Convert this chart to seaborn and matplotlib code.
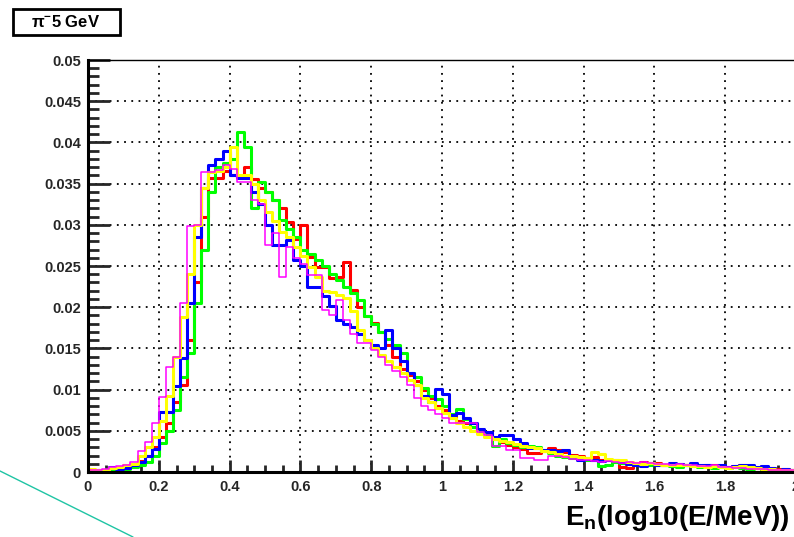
import numpy as np
import pandas as pd
import matplotlib
matplotlib.use("Agg")
import matplotlib.pyplot as plt
from matplotlib.lines import Line2D
from matplotlib.patches import Rectangle
import seaborn as sns

# ---------------- data (bin contents, 100 bins from 0 to 2) ----------------
bin_edges = [round(0.02 * k, 2) for k in range(101)]

red = [0.0002, 0.0002, 0.0002, 0.0003, 0.0004, 0.0005, 0.0008, 0.0013, 0.0020, 0.0030,
       0.0042, 0.0060, 0.0085, 0.0105, 0.0160, 0.0230, 0.0310, 0.0357, 0.0357, 0.0365,
       0.0360, 0.0358, 0.0370, 0.0355, 0.0345, 0.0340, 0.0330, 0.0320, 0.0304, 0.0283,
       0.0300, 0.0261, 0.0249, 0.0249, 0.0235, 0.0237, 0.0255, 0.0221, 0.0200, 0.0189,
       0.0181, 0.0170, 0.0154, 0.0140, 0.0125, 0.0118, 0.0110, 0.0100, 0.0090, 0.0080,
       0.0075, 0.0068, 0.0062, 0.0059, 0.0055, 0.0048, 0.0045, 0.0040, 0.0036, 0.0033,
       0.0030, 0.0028, 0.0023, 0.0023, 0.0026, 0.0029, 0.0027, 0.0024, 0.0021, 0.0019,
       0.0017, 0.0018, 0.0015, 0.0014, 0.0012, 0.0006, 0.0005, 0.0011, 0.0012, 0.0010,
       0.0011, 0.0009, 0.0008, 0.0010, 0.0009, 0.0008, 0.0007, 0.0009, 0.0008, 0.0007,
       0.0006, 0.0007, 0.0008, 0.0006, 0.0005, 0.0006, 0.0005, 0.0004, 0.0004, 0.0003]

green = [0.0001, 0.0001, 0.0002, 0.0002, 0.0003, 0.0004, 0.0006, 0.0008, 0.0012, 0.0020,
         0.0035, 0.0050, 0.0075, 0.0115, 0.0145, 0.0205, 0.0270, 0.0340, 0.0370, 0.0375,
         0.0380, 0.0413, 0.0395, 0.0320, 0.0352, 0.0340, 0.0330, 0.0306, 0.0295, 0.0285,
         0.0270, 0.0265, 0.0257, 0.0250, 0.0240, 0.0233, 0.0225, 0.0217, 0.0209, 0.0189,
         0.0180, 0.0170, 0.0162, 0.0154, 0.0145, 0.0120, 0.0115, 0.0102, 0.0092, 0.0088,
         0.0080, 0.0070, 0.0077, 0.0064, 0.0055, 0.0050, 0.0045, 0.0031, 0.0040, 0.0035,
         0.0033, 0.0030, 0.0031, 0.0030, 0.0026, 0.0023, 0.0020, 0.0018, 0.0017, 0.0016,
         0.0015, 0.0014, 0.0007, 0.0008, 0.0012, 0.0011, 0.0010, 0.0009, 0.0010, 0.0008,
         0.0009, 0.0008, 0.0007, 0.0006, 0.0008, 0.0007, 0.0006, 0.0007, 0.0005, 0.0006,
         0.0005, 0.0006, 0.0005, 0.0004, 0.0005, 0.0004, 0.0004, 0.0003, 0.0003, 0.0002]

blue = [0.0002, 0.0002, 0.0003, 0.0006, 0.0004, 0.0005, 0.0008, 0.0012, 0.0020, 0.0028,
        0.0073, 0.0073, 0.0104, 0.0138, 0.0205, 0.0285, 0.0345, 0.0372, 0.0380, 0.0390,
        0.0360, 0.0357, 0.0357, 0.0340, 0.0325, 0.0300, 0.0275, 0.0275, 0.0281, 0.0257,
        0.0250, 0.0225, 0.0225, 0.0213, 0.0201, 0.0185, 0.0180, 0.0176, 0.0168, 0.0160,
        0.0154, 0.0150, 0.0172, 0.0150, 0.0135, 0.0120, 0.0105, 0.0092, 0.0085, 0.0101,
        0.0095, 0.0069, 0.0071, 0.0066, 0.0060, 0.0052, 0.0048, 0.0043, 0.0045, 0.0045,
        0.0040, 0.0035, 0.0029, 0.0029, 0.0027, 0.0027, 0.0025, 0.0027, 0.0020, 0.0015,
        0.0016, 0.0015, 0.0013, 0.0015, 0.0015, 0.0012, 0.0010, 0.0008, 0.0007, 0.0011,
        0.0008, 0.0009, 0.0011, 0.0010, 0.0009, 0.0011, 0.0008, 0.0009, 0.0007, 0.0008,
        0.0006, 0.0007, 0.0009, 0.0008, 0.0006, 0.0007, 0.0005, 0.0003, 0.0004, 0.0002]

yellow = [0.0004, 0.0003, 0.0003, 0.0005, 0.0006, 0.0008, 0.0010, 0.0020, 0.0030, 0.0043,
          0.0062, 0.0092, 0.0140, 0.0188, 0.0240, 0.0300, 0.0345, 0.0364, 0.0365, 0.0370,
          0.0395, 0.0360, 0.0360, 0.0350, 0.0330, 0.0315, 0.0305, 0.0291, 0.0285, 0.0273,
          0.0262, 0.0249, 0.0237, 0.0220, 0.0219, 0.0215, 0.0211, 0.0195, 0.0172, 0.0160,
          0.0150, 0.0142, 0.0135, 0.0128, 0.0120, 0.0112, 0.0105, 0.0090, 0.0085, 0.0078,
          0.0072, 0.0066, 0.0060, 0.0055, 0.0050, 0.0046, 0.0043, 0.0040, 0.0038, 0.0036,
          0.0034, 0.0031, 0.0030, 0.0029, 0.0026, 0.0024, 0.0022, 0.0020, 0.0019, 0.0018,
          0.0017, 0.0024, 0.0022, 0.0016, 0.0015, 0.0014, 0.0012, 0.0011, 0.0010, 0.0011,
          0.0010, 0.0009, 0.0008, 0.0009, 0.0008, 0.0007, 0.0007, 0.0006, 0.0007, 0.0006,
          0.0005, 0.0006, 0.0007, 0.0006, 0.0005, 0.0004, 0.0004, 0.0003, 0.0003, 0.0003]

magenta = [0.0002, 0.0002, 0.0004, 0.0006, 0.0007, 0.0009, 0.0012, 0.0025, 0.0037, 0.0059,
           0.0091, 0.0128, 0.0140, 0.0205, 0.0298, 0.0300, 0.0364, 0.0364, 0.0366, 0.0373,
           0.0368, 0.0352, 0.0352, 0.0330, 0.0325, 0.0275, 0.0290, 0.0237, 0.0273, 0.0260,
           0.0253, 0.0239, 0.0239, 0.0197, 0.0191, 0.0209, 0.0184, 0.0168, 0.0156, 0.0156,
           0.0148, 0.0140, 0.0130, 0.0122, 0.0115, 0.0105, 0.0090, 0.0080, 0.0075, 0.0070,
           0.0065, 0.0059, 0.0059, 0.0059, 0.0059, 0.0048, 0.0045, 0.0031, 0.0031, 0.0027,
           0.0027, 0.0017, 0.0017, 0.0015, 0.0015, 0.0019, 0.0019, 0.0018, 0.0016, 0.0015,
           0.0014, 0.0013, 0.0012, 0.0013, 0.0012, 0.0011, 0.0012, 0.0011, 0.0012, 0.0011,
           0.0010, 0.0010, 0.0009, 0.0010, 0.0008, 0.0008, 0.0007, 0.0007, 0.0008, 0.0006,
           0.0006, 0.0005, 0.0005, 0.0004, 0.0004, 0.0004, 0.0003, 0.0003, 0.0002, 0.0002]

series_names = ["red", "green", "blue", "yellow", "magenta"]
series_colors = ["#ff0000", "#00ff00", "#0000ff", "#ffff00", "#ff00ff"]
series_widths = [2.2, 2.2, 2.2, 2.2, 1.1]

xtick_values = [0, 0.2, 0.4, 0.6, 0.8, 1.0, 1.2, 1.4, 1.6, 1.8, 2.0]
xtick_labels = ["0", "0.2", "0.4", "0.6", "0.8", "1", "1.2", "1.4", "1.6", "1.8", "2"]
ytick_values = [0, 0.005, 0.01, 0.015, 0.02, 0.025, 0.03, 0.035, 0.04, 0.045, 0.05]
ytick_labels = ["0", "0.005", "0.01", "0.015", "0.02", "0.025", "0.03", "0.035", "0.04", "0.045", "0.05"]

title_text = r"$\mathregular{\pi^{-}}$5 GeV"
xlabel_text = r"$\mathbf{E_{n}(log10(E/MeV))}$"

# ---------------- build table ----------------
centers = [(bin_edges[k] + bin_edges[k + 1]) / 2 for k in range(len(bin_edges) - 1)]
all_values = {"red": red, "green": green, "blue": blue, "yellow": yellow, "magenta": magenta}
frames = []
for name in series_names:
    frames.append(pd.DataFrame({"x": centers, "w": all_values[name], "series": name}))
df = pd.concat(frames, ignore_index=True)

# ---------------- style ----------------
sns.set_style("ticks")
plt.rcParams["font.family"] = ["Liberation Sans", "DejaVu Sans"]
plt.rcParams["mathtext.fontset"] = "custom"
plt.rcParams["mathtext.bf"] = "Liberation Sans:bold"
plt.rcParams["mathtext.rm"] = "Liberation Sans"
plt.rcParams["mathtext.it"] = "Liberation Sans:italic"

fig = plt.figure(figsize=(7.94, 5.37), dpi=100)
fig.patch.set_facecolor("white")
ax = fig.add_axes([88 / 794, 1 - 472 / 537, (796 - 88) / 794, (472 - 60) / 537])
ax.set_facecolor("white")

for name, col, lw in zip(series_names, series_colors, series_widths):
    sub = df[df["series"] == name]
    sns.histplot(data=sub, x="x", weights="w", bins=bin_edges, element="step",
                 fill=False, color=col, linewidth=lw, ax=ax, zorder=3)

ax.set_xlim(0, 2)
ax.set_ylim(0, 0.05)
ax.set_xlabel("")
ax.set_ylabel("")

ax.set_xticks(xtick_values)
ax.set_xticklabels(xtick_labels)
ax.set_yticks(ytick_values)
ax.set_yticklabels(ytick_labels)
ax.xaxis.set_minor_locator(matplotlib.ticker.MultipleLocator(0.05))
ax.yaxis.set_minor_locator(matplotlib.ticker.MultipleLocator(0.001))

ax.tick_params(axis="y", which="major", direction="in", length=16, width=2.0,
               labelsize=10.5, pad=5, right=False)
ax.tick_params(axis="y", which="minor", direction="in", length=8, width=2.0, right=False)
ax.tick_params(axis="x", which="major", direction="in", length=9, width=2.0,
               labelsize=10.5, pad=6, top=False)
ax.tick_params(axis="x", which="minor", direction="in", length=5, width=2.0, top=False)
for lab in ax.get_xticklabels() + ax.get_yticklabels():
    lab.set_fontweight("bold")

ax.grid(True, which="major", color="black", linestyle=(0, (1, 3)), linewidth=1.3)
ax.set_axisbelow(True)

ax.spines["left"].set_linewidth(2.2)
ax.spines["bottom"].set_linewidth(2.2)
ax.spines["top"].set_linewidth(1.0)
ax.spines["right"].set_visible(False)
for s in ax.spines.values():
    s.set_color("black")
    s.set_zorder(5)

# x-axis title
fig.text(790 / 794, 1 - 533 / 537, xlabel_text, ha="right", va="bottom",
         fontsize=20, color="black")

# title box
fig.add_artist(Rectangle((13 / 794, 1 - 35 / 537), (120 - 13) / 794, (35 - 9) / 537,
                         transform=fig.transFigure, fill=False, edgecolor="black",
                         linewidth=2.0))
fig.text(66 / 794, 1 - 22 / 537, title_text, ha="center", va="center",
         fontsize=12, fontweight="bold", color="black")

# decorative slide line at bottom-left
fig.add_artist(Line2D([0, 133 / 794], [1 - 471 / 537, 1 - 537 / 537],
                      transform=fig.transFigure, color="#1fc4a4", linewidth=1.0))

fig.savefig("out.png", dpi=100, facecolor="white")
